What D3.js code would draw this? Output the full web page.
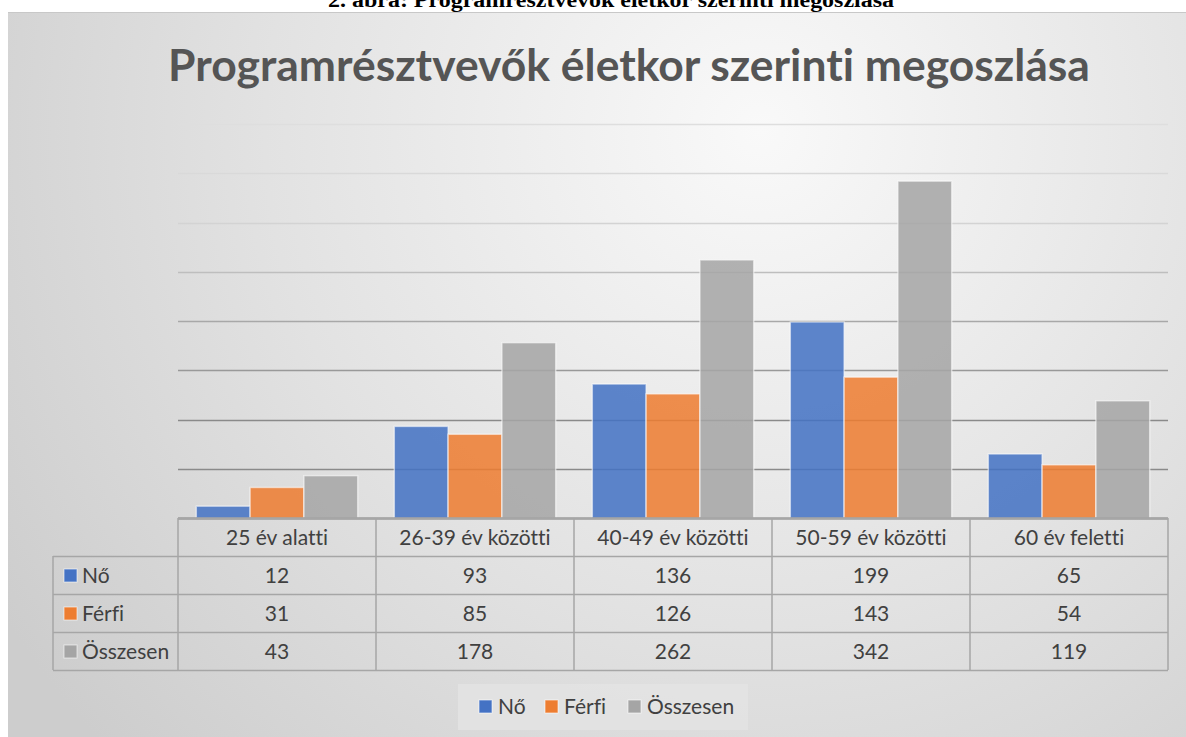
<!DOCTYPE html>
<html><head><meta charset="utf-8">
<script src="https://cdn.jsdelivr.net/npm/d3@7"></script>
<style>html,body{margin:0;padding:0;background:#fff;overflow:hidden}text{font-variant-ligatures:none;font-feature-settings:"liga" 0}</style>
</head><body>
<svg id="c" width="1186" height="737"></svg>
<script>
const caption = "2. ábra: Programrésztvevők életkor szerinti megoszlása";
const title = "Programrésztvevők életkor szerinti megoszlása";
const categories = ["25 év alatti","26-39 év közötti","40-49 év közötti","50-59 év közötti","60 év feletti"];
const seriesNames = ["Nő","Férfi","Összesen"];
const no = [12,93,136,199,65];
const ferfi = [31,85,126,143,54];
const osszesen = [43,178,262,342,119];
const yTicks = [0,50,100,150,200,250,300,350,400];
const colors = ["#4472C4","#ED7D31","#A5A5A5"];
const seriesValues = [no, ferfi, osszesen];

const svg = d3.select("#c");
const font = "Lato, 'Open Sans', sans-serif";
const fs = 21;
const defs = svg.append("defs");
const rg = defs.append("radialGradient").attr("id","bg").attr("gradientUnits","userSpaceOnUse")
  .attr("cx",760).attr("cy",130).attr("r",900);
rg.append("stop").attr("offset",0).attr("stop-color","#f9f9f9");
rg.append("stop").attr("offset",0.55).attr("stop-color","#e2e2e2");
rg.append("stop").attr("offset",1).attr("stop-color","#cdcdcd");

// caption (clipped at top, as in the reference)
svg.append("text").attr("x",611).attr("y",7).attr("text-anchor","middle")
  .attr("font-family","'Liberation Serif', 'Times New Roman', serif").attr("font-weight","bold")
  .attr("font-size",20).attr("textLength",566).attr("lengthAdjust","spacingAndGlyphs")
  .attr("fill","#000").text(caption);

// chart area
svg.append("rect").attr("x",8).attr("y",12).attr("width",1178).attr("height",725).attr("fill","url(#bg)");
svg.append("line").attr("x1",8).attr("x2",1186).attr("y1",12.5).attr("y2",12.5).attr("stroke","#c8c8c8");

// title
const t = svg.append("text").attr("x",629).attr("y",81).attr("text-anchor","middle")
  .attr("font-family",font).attr("font-weight","bold").attr("font-size",44).attr("fill","#555555").text(title);
const tw = t.node().getComputedTextLength();
t.attr("font-size", 44*922/tw);

const x = d3.scaleBand().domain(categories).range([178,1168]).paddingInner(0).paddingOuter(0);
const xs = d3.scaleBand().domain(seriesNames).range([0,x.bandwidth()]).paddingInner(0).paddingOuter(0.34);
const y = d3.scaleLinear().domain([0,400]).range([518,124]);

// gridlines
const gcol = d3.scaleLinear().domain([0,100,200,300,400]).range(["#8a8a8a","#8a8a8a","#a8a8a8","#d3d3d3","#dedede"]);
const grid = svg.append("g");
grid.selectAll("line").data(yTicks.filter(d=>d>0)).join("line")
  .attr("x1",178).attr("x2",1168).attr("y1",d=>Math.round(y(d))+0.5).attr("y2",d=>Math.round(y(d))+0.5)
  .attr("stroke",d=>gcol(d)).attr("stroke-width",1.5);

// bars
const bars = svg.append("g");
seriesNames.forEach((s,si)=>{
  bars.append("g").selectAll("rect").data(seriesValues[si]).join("rect")
    .attr("x",(d,i)=>x(categories[i])+xs(s)).attr("width",xs.bandwidth())
    .attr("y",d=>y(d)).attr("height",d=>y(0)-y(d))
    .attr("fill",colors[si]).attr("fill-opacity",0.86)
    .attr("stroke","#ffffff").attr("stroke-opacity",0.55).attr("stroke-width",1.5);
});

// axis baseline
svg.append("line").attr("x1",178).attr("x2",1168).attr("y1",518.5).attr("y2",518.5).attr("stroke","#7f7f7f").attr("stroke-width",2);

// data table
const tableLeft = 53, rowH = 38, top0 = 518;
const tl = svg.append("g").attr("stroke","#a6a6a6").attr("stroke-width",1.5).attr("fill","none");
[0,1,2,3,4].forEach(r=>{
  const yy = top0 + r*rowH;
  tl.append("line").attr("x1", r>=1?tableLeft:178).attr("x2",1168).attr("y1",yy+0.5).attr("y2",yy+0.5);
});
const vx = [178].concat(categories.map(c=>x(c)+x.bandwidth()));
vx.forEach(v=>tl.append("line").attr("x1",v).attr("x2",v).attr("y1",top0).attr("y2",top0+4*rowH));
tl.append("line").attr("x1",tableLeft).attr("x2",tableLeft).attr("y1",top0+rowH).attr("y2",top0+4*rowH);

const tt = svg.append("g").attr("font-family",font).attr("font-size",fs).attr("fill","#404040");
tt.selectAll("text.h").data(categories).join("text").attr("class","h")
  .attr("x",d=>x(d)+x.bandwidth()/2).attr("y",top0+27).attr("text-anchor","middle").text(d=>d);
seriesNames.forEach((s,si)=>{
  const ry = top0 + (si+1)*rowH;
  tt.append("g").selectAll("text").data(seriesValues[si]).join("text")
    .attr("x",(d,i)=>x(categories[i])+x.bandwidth()/2).attr("y",ry+27).attr("text-anchor","middle").text(d=>d);
  svg.append("rect").attr("x",64).attr("y",ry+13).attr("width",13).attr("height",13)
    .attr("fill",colors[si]).attr("stroke","#ffffff").attr("stroke-opacity",0.6).attr("stroke-width",1);
  tt.append("text").attr("x",82).attr("y",ry+27).text(s);
});

// legend
const lg = svg.append("g");
lg.append("rect").attr("x",458).attr("y",684).attr("width",290).attr("height",46).attr("fill","#e4e4e4").attr("fill-opacity",0.8);
const lx = [479,545,628];
seriesNames.forEach((s,si)=>{
  lg.append("rect").attr("x",lx[si]).attr("y",700).attr("width",13).attr("height",13)
    .attr("fill",colors[si]).attr("stroke","#ffffff").attr("stroke-opacity",0.6);
  lg.append("text").attr("x",lx[si]+19).attr("y",714).attr("font-family",font).attr("font-size",fs)
    .attr("fill","#404040").text(s);
});
</script>
</body></html>
